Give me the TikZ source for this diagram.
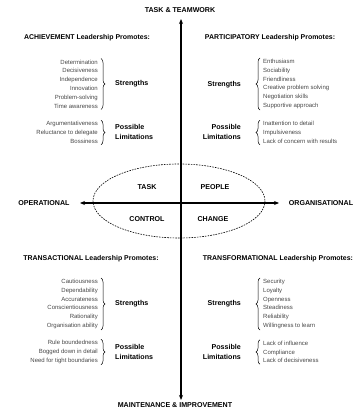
\documentclass[tikz,border=0pt]{standalone}
\usepackage{fontspec}
\setmainfont{Liberation Sans}
\usetikzlibrary{decorations.pathreplacing,arrows.meta}
\begin{document}
\begin{tikzpicture}[x=1pt,y=-1pt,
  lbl/.style={font=\fontsize{7.1}{10}\selectfont\bfseries, inner sep=0},
  head/.style={font=\fontsize{6.95}{8}\selectfont\bfseries, inner sep=0},
  items/.style={font=\fontsize{6.0}{8.8}\selectfont, text=black!72, inner sep=0},
  itemsl/.style={items, align=right, anchor=east},
  itemsr/.style={items, align=left, anchor=west},
  brc/.style={decorate, decoration={brace, amplitude=4pt}, line width=0.5pt},
  axis/.style={line width=1.1pt, {Stealth[length=5pt,width=4pt]}-{Stealth[length=5pt,width=4pt]}},
  zone/.style={line width=0.6pt, dash pattern=on 1.6pt off 1.1pt},
]
\useasboundingbox (0,0) rectangle (358,411);

% axes and their end labels
\node[lbl] (top) at (180,10) {TASK \& TEAMWORK};
\node[lbl] (bottom) at (175,405) {MAINTENANCE \& IMPROVEMENT};
\node[lbl] (west) at (44,203) {OPERATIONAL};
\node[lbl] (east) at (321,203) {ORGANISATIONAL};
\coordinate (vtop) at (181,19);
\coordinate (vbot) at (181,400);
\coordinate (hleft) at (80,203);
\coordinate (hright) at (279,203);
\draw[axis] (vtop) -- (vbot);
\draw[axis] (hleft) -- (hright);

% central zone
\draw[zone] (179,201) ellipse [x radius=86, y radius=37];
\node[lbl] (task) at (147,187) {TASK};
\node[lbl] (people) at (215,187) {PEOPLE};
\node[lbl] (control) at (147,219) {CONTROL};
\node[lbl] (change) at (213,219) {CHANGE};

% quadrant headings
\node[head] (achH) at (87,38) {ACHIEVEMENT Leadership Promotes:};
\node[head] (parH) at (270,38) {PARTICIPATORY Leadership Promotes:};
\node[head] (traH) at (91,259) {TRANSACTIONAL Leadership Promotes:};
\node[head] (tfmH) at (278,259) {TRANSFORMATIONAL Leadership Promotes:};

% achievement
\node[itemsl] (achS) at (98,84) {Determination\\Decisiveness\\Independence\\Innovation\\Problem-solving\\Time awareness};
\draw[brc] ([xshift=3pt,yshift=1pt]achS.north east) -- ([xshift=3pt,yshift=-1pt]achS.south east);
\node[lbl, anchor=west] (achSL) at (115,84) {Strengths};
\node[itemsl] (achL) at (98,132.5) {Argumentativeness\\Reluctance to delegate\\Bossiness};
\draw[brc] ([xshift=3pt,yshift=1pt]achL.north east) -- ([xshift=3pt,yshift=-1pt]achL.south east);
\node[lbl, anchor=west, align=left] (achLL) at (115,132) {Possible\\Limitations};

% participatory
\node[itemsr] (parS) at (263,84) {Enthusiasm\\Sociability\\Friendliness\\Creative problem solving\\Negotiation skills\\Supportive approach};
\draw[brc] ([xshift=-3pt,yshift=-1pt]parS.south west) -- ([xshift=-3pt,yshift=1pt]parS.north west);
\node[lbl, anchor=east] (parSL) at (241,85) {Strengths};
\node[itemsr] (parL) at (263,132.5) {Inattention to detail\\Impulsiveness\\Lack of concern with results};
\draw[brc] ([xshift=-3pt,yshift=-1pt]parL.south west) -- ([xshift=-3pt,yshift=1pt]parL.north west);
\node[lbl, anchor=east, align=right] (parLL) at (241,132) {Possible\\Limitations};

% transactional
\node[itemsl] (traS) at (98,304) {Cautiousness\\Dependability\\Accurateness\\Conscientiousness\\Rationality\\Organisation ability};
\draw[brc] ([xshift=3pt,yshift=1pt]traS.north east) -- ([xshift=3pt,yshift=-1pt]traS.south east);
\node[lbl, anchor=west] (traSL) at (115,304) {Strengths};
\node[itemsl] (traL) at (98,352) {Rule boundedness\\Bogged down in detail\\Need for tight boundaries};
\draw[brc] ([xshift=3pt,yshift=1pt]traL.north east) -- ([xshift=3pt,yshift=-1pt]traL.south east);
\node[lbl, anchor=west, align=left] (traLL) at (115,352) {Possible\\Limitations};

% transformational
\node[itemsr] (tfmS) at (263,304) {Security\\Loyalty\\Openness\\Steadiness\\Reliability\\Willingness to learn};
\draw[brc] ([xshift=-3pt,yshift=-1pt]tfmS.south west) -- ([xshift=-3pt,yshift=1pt]tfmS.north west);
\node[lbl, anchor=east] (tfmSL) at (241,304) {Strengths};
\node[itemsr] (tfmL) at (263,352) {Lack of influence\\Compliance\\Lack of decisiveness};
\draw[brc] ([xshift=-3pt,yshift=-1pt]tfmL.south west) -- ([xshift=-3pt,yshift=1pt]tfmL.north west);
\node[lbl, anchor=east, align=right] (tfmLL) at (241,352) {Possible\\Limitations};
\end{tikzpicture}
\end{document}
